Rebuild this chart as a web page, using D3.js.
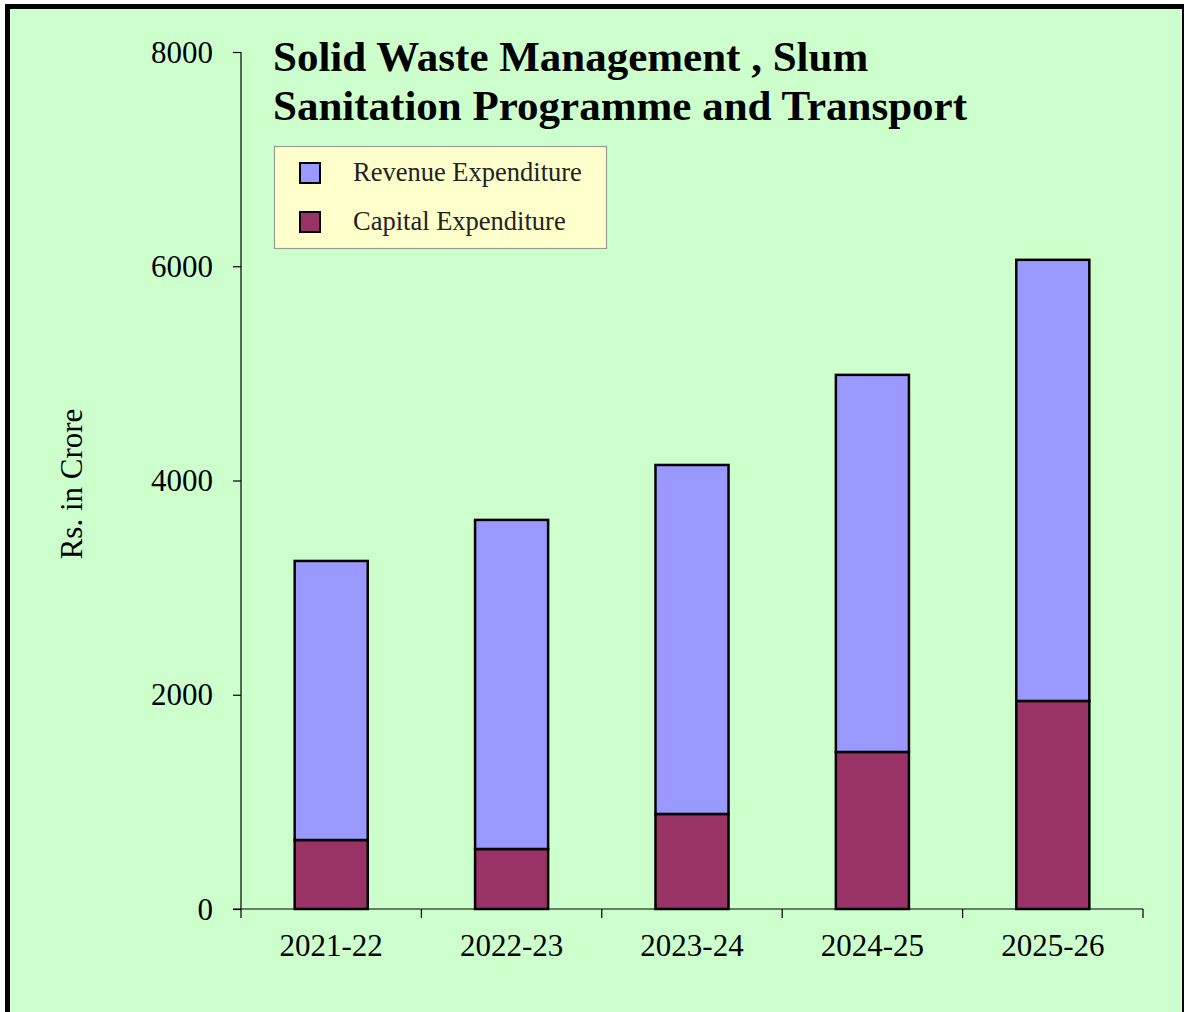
<!DOCTYPE html>
<html>
<head>
<meta charset="utf-8">
<script src="https://cdn.jsdelivr.net/npm/d3@7"></script>
<style>
  html, body { margin: 0; padding: 0; background: #ffffff; }
  svg text { font-family: "Liberation Serif", "Times New Roman", serif; }
</style>
</head>
<body>
<div id="chart"></div>
<script>
// chart data
const years = ['2021-22', '2022-23', '2023-24', '2024-25', '2025-26'];
const capital = [644, 560, 887, 1466, 1942];
const revenue = [2605, 3072, 3258, 3520, 4118];
const yTicks = [0, 2000, 4000, 6000, 8000];
const seriesNames = ['Revenue Expenditure', 'Capital Expenditure'];
const seriesColors = ['#9999ff', '#993366'];

(function drawChart() {
    const width = 1184, height = 1012;
    const serif = '"Liberation Serif", "Times New Roman", serif';

    const svg = d3.select('#chart')
        .append('svg')
        .attr('width', width)
        .attr('height', height)
        .style('display', 'block');

    // background + outer frame
    svg.append('rect')
        .attr('x', 7.5).attr('y', 6.5)
        .attr('width', 1177).attr('height', 1020)
        .style('fill', '#ccffcc')
        .style('stroke', '#000')
        .style('stroke-width', 5);

    const x = d3.scaleBand()
        .domain(years)
        .range([241, 1143])
        .paddingInner(0.595)
        .paddingOuter(0.2975);

    const y = d3.scaleLinear()
        .domain([0, 8000])
        .range([909, 52]);

    // stacked data: capital at bottom, revenue on top
    const rows = years.map((yr, i) => ({ year: yr, capital: capital[i], revenue: revenue[i] }));
    const stack = d3.stack().keys(['capital', 'revenue'])(rows);
    const colorOf = { capital: seriesColors[1], revenue: seriesColors[0] };

    // y axis
    const yAxis = svg.append('g')
        .attr('transform', 'translate(241,0)')
        .call(d3.axisLeft(y).tickValues(yTicks).tickSize(8).tickPadding(20).tickFormat(d3.format('d')));
    yAxis.attr('font-family', null).attr('font-size', null);
    yAxis.select('.domain').attr('d', `M0,${y(8000)}V${y(0)}`).style('stroke', '#000').style('stroke-width', 1.2);
    yAxis.selectAll('.tick line').style('stroke', '#000').style('stroke-width', 1.2);
    yAxis.selectAll('.tick text')
        .style('font-family', serif)
        .style('font-size', '31px')
        .style('fill', '#000')
        .attr('dy', '0.33em');

    // x axis
    const xAxis = svg.append('g')
        .attr('transform', `translate(0,${y(0)})`);
    xAxis.append('line')
        .attr('x1', 233).attr('x2', 1143)
        .style('stroke', '#000').style('stroke-width', 1.2);
    const bounds = years.map(d => x(d) - x.step() * x.paddingInner() / 2).concat([1143]);
    xAxis.selectAll('line.xt')
        .data(bounds)
        .enter()
        .append('line')
        .attr('class', 'xt')
        .attr('x1', d => d).attr('x2', d => d)
        .attr('y1', 0).attr('y2', 9)
        .style('stroke', '#000').style('stroke-width', 1.2);
    xAxis.selectAll('text')
        .data(years)
        .enter()
        .append('text')
        .attr('x', d => x(d) + x.bandwidth() / 2)
        .attr('y', 47)
        .attr('text-anchor', 'middle')
        .style('font-size', '31px')
        .text(d => d);

    // bars
    svg.append('g')
        .selectAll('g')
        .data(stack)
        .enter()
        .append('g')
        .style('fill', d => colorOf[d.key])
        .selectAll('rect')
        .data(d => d)
        .enter()
        .append('rect')
        .attr('x', d => x(d.data.year))
        .attr('y', d => y(d[1]))
        .attr('width', x.bandwidth())
        .attr('height', d => y(d[0]) - y(d[1]))
        .style('stroke', '#000')
        .style('stroke-width', 2.5);

    // y label
    svg.append('text')
        .attr('transform', 'translate(82,484) rotate(-90)')
        .attr('text-anchor', 'middle')
        .style('font-size', '31px')
        .text('Rs. in Crore');

    // title
    const title = svg.append('text')
        .attr('x', 273)
        .style('font-size', '43px')
        .style('font-weight', 'bold');
    title.append('tspan').attr('x', 273).attr('y', 71).text('Solid Waste Management , Slum');
    title.append('tspan').attr('x', 273).attr('y', 120).text('Sanitation Programme and Transport');

    // legend
    const legend = svg.append('g');
    legend.append('rect')
        .attr('x', 274.5).attr('y', 146.5)
        .attr('width', 332).attr('height', 102)
        .style('fill', '#ffffcc')
        .style('stroke', '#999')
        .style('stroke-width', 1.2);
    const items = legend.selectAll('g')
        .data(seriesNames)
        .enter()
        .append('g')
        .attr('transform', (d, i) => `translate(0,${i * 49})`);
    items.append('rect')
        .attr('x', 300).attr('y', 163)
        .attr('width', 20).attr('height', 20)
        .style('fill', (d, i) => seriesColors[i])
        .style('stroke', '#000')
        .style('stroke-width', 2);
    items.append('text')
        .attr('x', 353).attr('y', 181)
        .style('font-size', '26.5px')
        .style('fill', '#222')
        .text(d => d);
})();
</script>
</body>
</html>
